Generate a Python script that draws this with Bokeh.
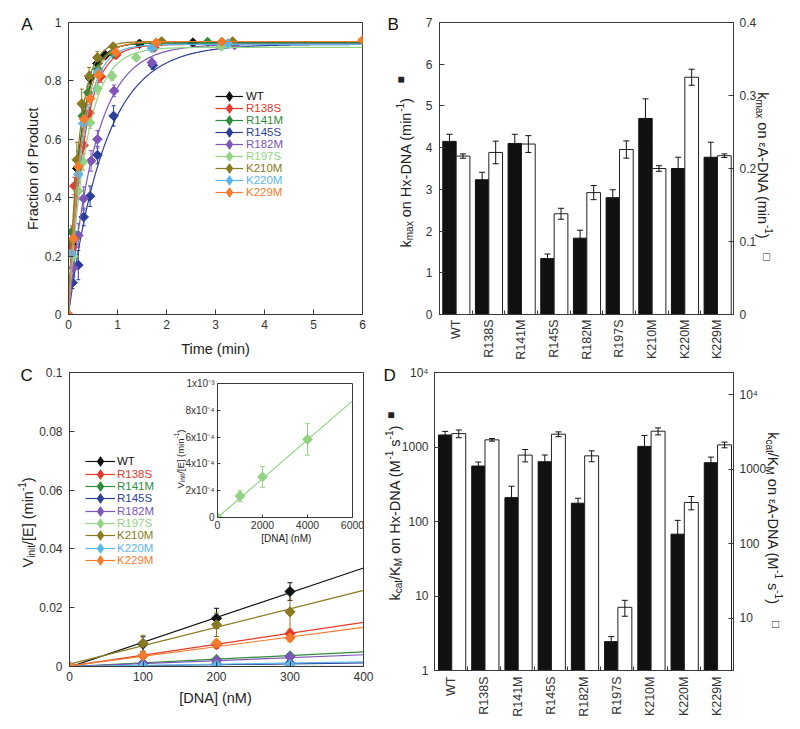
import math
import numpy as np
from bokeh.plotting import figure
from bokeh.models import (ColumnDataSource, Range1d, LinearAxis, LogAxis, LogScale, FixedTicker,
                          Label, Legend, LegendItem, Whisker, TeeHead)
from bokeh.layouts import row, column
from bokeh.embed import file_html
from bokeh.resources import INLINE

FONT = "Liberation Sans"

# ---------------- data ----------------
SERIES = ["WT", "R138S", "R141M", "R145S", "R182M", "R197S", "K210M", "K220M", "K229M"]
COLORS = ["#111111", "#E4392B", "#2F8C3C", "#2B3F98", "#7E56B8", "#93D384", "#8A7A22", "#5DB6EA", "#F47C2C"]

# Panel A: fraction of product vs time (min)
A_T_WT = [0, 0.08, 0.18, 0.30, 0.44, 0.59, 0.75, 1.45, 2.54]
A_Y_WT = [0, 0.24, 0.50, 0.68, 0.81, 0.86, 0.888, 0.927, 0.931]
A_E_WT = [0, 0.02, 0.03, 0.03, 0.02, 0.015, 0.01, 0.01, 0.01]
A_T_R138S = [0, 0.08, 0.12, 0.31, 0.43, 0.66, 0.97, 1.75]
A_Y_R138S = [0, 0.23, 0.44, 0.58, 0.69, 0.815, 0.889, 0.914]
A_E_R138S = [0, 0.02, 0.03, 0.03, 0.02, 0.02, 0.01, 0.01]
A_T_R141M = [0, 0.07, 0.20, 0.29, 0.40, 0.60, 0.91, 2.84]
A_Y_R141M = [0, 0.283, 0.53, 0.68, 0.76, 0.84, 0.894, 0.933]
A_E_R141M = [0, 0.02, 0.03, 0.03, 0.02, 0.02, 0.01, 0.01]
A_T_R145S = [0, 0.08, 0.20, 0.31, 0.44, 0.59, 0.92, 1.72]
A_Y_R145S = [0, 0.109, 0.169, 0.334, 0.405, 0.546, 0.68, 0.854]
A_E_R145S = [0, 0.02, 0.05, 0.03, 0.035, 0.03, 0.035, 0.015]
A_T_R182M = [0, 0.10, 0.20, 0.31, 0.46, 0.59, 0.93, 1.70, 3.39]
A_Y_R182M = [0, 0.16, 0.271, 0.397, 0.526, 0.60, 0.766, 0.863, 0.923]
A_E_R182M = [0, 0.03, 0.04, 0.04, 0.035, 0.03, 0.02, 0.015, 0.01]
A_T_R197S = [0, 0.10, 0.20, 0.30, 0.44, 0.59, 0.89, 1.38, 3.12]
A_Y_R197S = [0, 0.20, 0.423, 0.523, 0.657, 0.774, 0.816, 0.88, 0.918]
A_E_R197S = [0, 0.02, 0.03, 0.03, 0.02, 0.02, 0.015, 0.01, 0.01]
A_T_K210M = [0, 0.07, 0.17, 0.27, 0.42, 0.59, 0.91, 1.90, 3.35]
A_Y_K210M = [0, 0.25, 0.53, 0.722, 0.816, 0.88, 0.918, 0.935, 0.935]
A_E_K210M = [0, 0.03, 0.06, 0.05, 0.03, 0.02, 0.01, 0.01, 0.01]
A_T_K220M = [0, 0.06, 0.20, 0.30, 0.60, 1.70, 3.25]
A_Y_K220M = [0, 0.208, 0.48, 0.654, 0.83, 0.912, 0.928]
A_E_K220M = [0, 0.02, 0.03, 0.03, 0.02, 0.01, 0.01]
A_T_K229M = [0, 0.10, 0.20, 0.32, 0.44, 0.62, 0.97, 1.79, 3.13, 6.0]
A_Y_K229M = [0, 0.26, 0.507, 0.669, 0.739, 0.82, 0.897, 0.931, 0.934, 0.94]
A_E_K229M = [0, 0.02, 0.03, 0.03, 0.02, 0.02, 0.01, 0.01, 0.01, 0]
A_PLATEAU = [0.93, 0.925, 0.93, 0.925, 0.925, 0.915, 0.935, 0.925, 0.935]
A_XTICKS = [0, 1, 2, 3, 4, 5, 6]
A_YTICKS = [0, 0.2, 0.4, 0.6, 0.8, 1]

# Panel B: kmax (min^-1)
KMAX_HX = [4.15, 3.23, 4.10, 1.34, 1.83, 2.80, 4.70, 3.50, 3.77]
KMAX_HX_ERR = [0.17, 0.18, 0.22, 0.11, 0.19, 0.19, 0.47, 0.27, 0.36]
KMAX_EA = [0.217, 0.222, 0.2335, 0.138, 0.167, 0.226, 0.200, 0.325, 0.2175]
KMAX_EA_ERR = [0.003, 0.0155, 0.0115, 0.0075, 0.0097, 0.0118, 0.0038, 0.011, 0.0025]
B_LTICKS = [0, 1, 2, 3, 4, 5, 6, 7]
B_RTICKS = [0, 0.1, 0.2, 0.3, 0.4]

# Panel C: Vinit/[E] vs [DNA] (nM)
C_X = [0, 100, 200, 300]
C_Y_WT = [0, 0.0076, 0.0164, 0.0255]
C_E_WT = [0, 0.0025, 0.0034, 0.003]
C_Y_R138S = [0, 0.0036, 0.0074, 0.0112]
C_E_R138S = [0, 0.0008, 0.0012, 0.0015]
C_Y_R141M = [0, 0.0012, 0.0024, 0.0036]
C_E_R141M = [0, 0.0003, 0.0005, 0.0008]
C_Y_R145S = [0, 0.0004, 0.0008, 0.0011]
C_E_R145S = [0, 0.0002, 0.0002, 0.0003]
C_Y_R182M = [0, 0.0010, 0.0020, 0.0033]
C_E_R182M = [0, 0.0004, 0.0006, 0.0008]
C_Y_R197S = [0, 0.00002, 0.00003, 0.00005]
C_E_R197S = [0, 0, 0, 0]
C_Y_K210M = [0, 0.0079, 0.0142, 0.0186]
C_E_K210M = [0, 0.0027, 0.004, 0.0065]
C_Y_K220M = [0, 0.0002, 0.0004, 0.0006]
C_E_K220M = [0, 0.0001, 0.0001, 0.0002]
C_Y_K229M = [0, 0.0037, 0.0080, 0.0097]
C_E_K229M = [0, 0.0008, 0.001, 0.0012]
C_LINE_X = [0, 400]
C_LINE_Y = [[-0.0002, 0.0335], [0.0001, 0.0150], [0, 0.0050], [0, 0.0012], [0, 0.0040],
            [0, 0.00006], [0.0008, 0.0259], [0, 0.0016], [0.0002, 0.0133]]
C_XTICKS = [0, 100, 200, 300, 400]
C_YTICKS = [0, 0.02, 0.04, 0.06, 0.08, 0.1]

# Inset (R197S)
INSET_X = [0, 1000, 2000, 4000]
INSET_Y = [0, 0.000160, 0.000303, 0.000583]
INSET_E = [0, 0.000040, 0.000078, 0.000117]
INSET_LINE_X = [0, 6000]
INSET_LINE_Y = [0, 0.00087]
INSET_XTICKS = [0, 2000, 4000, 6000]
INSET_YTICKS = [0, 0.0002, 0.0004, 0.0006, 0.0008, 0.001]
INSET_YLABELS = ["0", "2x10\u207b\u2074", "4x10\u207b\u2074", "6x10\u207b\u2074", "8x10\u207b\u2074", "1x10\u207b\u00b3"]

# Panel D: kcat/KM (M^-1 s^-1)
KCAT_HX = [1450, 555, 209, 634, 176, 2.44, 1019, 67.6, 615]
KCAT_HX_ERR = [170, 73, 88, 146, 29, 0.41, 411, 36, 117]
KCAT_EA = [3025, 2496, 1556, 2972, 1521, 14.1, 3259, 360, 2137]
KCAT_EA_ERR = [360, 100, 294, 218, 254, 3.4, 351, 73, 186]
D_LTICKS = [1, 10, 100, 1000, 10000]
D_RTICKS = [10, 100, 1000, 10000]

# ---------------- helpers ----------------
WID = {' ': .278, '(': .333, ')': .333, '-': .333, '/': .278, '[': .278, ']': .278,
       'A': .667, 'D': .722, 'E': .667, 'H': .722, 'K': .667, 'M': .833, 'N': .722, 'V': .667,
       'a': .556, 'c': .5, 'e': .556, 'i': .222, 'k': .5, 'm': .833, 'n': .556, 'o': .556,
       's': .5, 't': .278, 'x': .5, '\u03b5': .46}


def text_w(s, size):
    return sum(WID.get(ch, .556) for ch in s) * size


def make_fig(fw, fh, bl, br, bt, bb, xr, yr, **kw):
    kw.setdefault("border_fill_color", "white")
    kw.setdefault("background_fill_color", "white")
    kw.setdefault("outline_line_color", "#3a3a3a")
    p = figure(frame_width=fw, frame_height=fh, min_border_left=bl, min_border_right=br,
               min_border_top=bt, min_border_bottom=bb, x_range=xr, y_range=yr, title=None,
               output_backend="svg", toolbar_location=None, **kw)
    p.xgrid.visible = False
    p.ygrid.visible = False
    return p


def style_axis(ax, size=12, standoff=6, tick_in=5):
    ax.axis_line_color = "#3a3a3a"
    ax.major_tick_line_color = "#3a3a3a"
    ax.minor_tick_line_color = "#3a3a3a"
    ax.major_tick_in = tick_in
    ax.major_tick_out = 0
    ax.minor_tick_in = 0
    ax.minor_tick_out = 0
    ax.major_label_text_font = FONT
    ax.major_label_text_font_size = f"{size}px"
    ax.major_label_text_color = "#333333"
    ax.major_label_standoff = standoff


def fmt(v):
    return "%g" % v


def whisk(p, src, col, head, level, rn="default"):
    p.add_layout(Whisker(source=src, base="x", lower="lo", upper="hi", y_range_name=rn,
                         line_color=col, line_width=1, level=level,
                         upper_head=TeeHead(size=head, line_color=col, line_width=1),
                         lower_head=TeeHead(size=head, line_color=col, line_width=1)))


def add_legend_entry(p, name, col, renderers, fx, fy, gw, standoff):
    p.add_layout(Legend(items=[LegendItem(label=name, renderers=renderers)],
                        location=(fx, fy), glyph_width=gw, glyph_height=24, label_height=24,
                        label_standoff=standoff, padding=0, margin=0, spacing=0,
                        background_fill_alpha=0, border_line_alpha=0,
                        label_text_color=col, label_text_font=FONT, label_text_font_size="11.5px"))


# ---------------- Panel A ----------------
pA = make_fig(294, 292, 68, 18, 22, 48, Range1d(0, 6), Range1d(0, 1))
style_axis(pA.xaxis[0], standoff=5)
style_axis(pA.yaxis[0], standoff=7)
pA.xaxis[0].ticker = FixedTicker(ticks=A_XTICKS)
pA.yaxis[0].ticker = FixedTicker(ticks=A_YTICKS)
pA.yaxis[0].major_label_overrides = {v: fmt(v) for v in A_YTICKS}

A_T = [A_T_WT, A_T_R138S, A_T_R141M, A_T_R145S, A_T_R182M, A_T_R197S, A_T_K210M, A_T_K220M, A_T_K229M]
A_Y = [A_Y_WT, A_Y_R138S, A_Y_R141M, A_Y_R145S, A_Y_R182M, A_Y_R197S, A_Y_K210M, A_Y_K220M, A_Y_K229M]
A_E = [A_E_WT, A_E_R138S, A_E_R141M, A_E_R145S, A_E_R182M, A_E_R197S, A_E_K210M, A_E_K220M, A_E_K229M]

t_fit = np.linspace(0, 6, 301)
for i, name in enumerate(SERIES):
    col = COLORS[i]
    t = np.array(A_T[i]); y = np.array(A_Y[i]); e = np.array(A_E[i])
    # single-exponential fit curve: plateau * (1 - exp(-kmax t)), kmax from panel B
    ln = pA.line(t_fit, A_PLATEAU[i] * (1 - np.exp(-KMAX_HX[i] * t_fit)), line_color=col, line_width=1.2)
    src = ColumnDataSource(dict(x=t, y=y, lo=y - e, hi=y + e))
    whisk(pA, src, col, 4, "underlay")
    # small diamond (hidden under the marker) supplies the diamond legend key
    key = pA.scatter("x", "y", source=src, marker="diamond", size=5.5, fill_color=col, line_color=col)
    pA.scatter("x", "y", source=src, marker="square", angle=math.pi / 4, size=6.8,
               fill_color=col, line_color=col)
    cy = 95.7 + 12.07 * i
    add_legend_entry(pA, name, col, [ln, key], 147, 314 - cy - 12, 28, 3)

# ---------------- Panel B ----------------
CAT_X = [i + 0.5 for i in range(len(SERIES))]
pB = make_fig(294, 292, 59, 59, 22, 48, Range1d(0, 9), Range1d(0, 7))
pB.extra_y_ranges = {"r": Range1d(0, 0.4)}
style_axis(pB.yaxis[0], standoff=7)
pB.yaxis[0].ticker = FixedTicker(ticks=B_LTICKS)
rB = LinearAxis(y_range_name="r", ticker=FixedTicker(ticks=B_RTICKS),
                major_label_overrides={v: fmt(v) for v in B_RTICKS})
style_axis(rB, standoff=6)
pB.add_layout(rB, "right")
xb = pB.xaxis[0]
style_axis(xb, size=12.5, standoff=5)
xb.ticker = FixedTicker(ticks=CAT_X, minor_ticks=[1, 2, 3, 4, 5, 6, 7, 8])
xb.major_label_overrides = dict(zip(CAT_X, SERIES))
xb.major_label_orientation = math.pi / 2
xb.major_tick_in = 0
xb.minor_tick_in = 4

bx_black = [i + 0.305 for i in range(9)]
bx_open = [i + 0.72 for i in range(9)]
pB.vbar(x=bx_black, top=KMAX_HX, bottom=0, width=0.41, fill_color="#111111", line_color="#111111")
pB.vbar(x=bx_open, top=KMAX_EA, bottom=0, width=0.42, fill_color="white", line_color="#222222",
        y_range_name="r")
hx = np.array(KMAX_HX); hxe = np.array(KMAX_HX_ERR)
ea = np.array(KMAX_EA); eae = np.array(KMAX_EA_ERR)
whisk(pB, ColumnDataSource(dict(x=bx_black, lo=hx - hxe, hi=hx + hxe)), "#111111", 6, "annotation")
whisk(pB, ColumnDataSource(dict(x=bx_open, lo=ea - eae, hi=ea + eae)), "#111111", 6, "annotation", "r")

# ---------------- Panel C ----------------
pC = make_fig(294, 294, 69, 17, 10, 54, Range1d(0, 400), Range1d(0, 0.1))
style_axis(pC.xaxis[0], standoff=5)
style_axis(pC.yaxis[0], standoff=7)
pC.xaxis[0].ticker = FixedTicker(ticks=C_XTICKS)
pC.yaxis[0].ticker = FixedTicker(ticks=C_YTICKS)
pC.yaxis[0].major_label_overrides = {v: fmt(v) for v in C_YTICKS}

C_Y = [C_Y_WT, C_Y_R138S, C_Y_R141M, C_Y_R145S, C_Y_R182M, C_Y_R197S, C_Y_K210M, C_Y_K220M, C_Y_K229M]
C_E = [C_E_WT, C_E_R138S, C_E_R141M, C_E_R145S, C_E_R182M, C_E_R197S, C_E_K210M, C_E_K220M, C_E_K229M]
for i, name in enumerate(SERIES):
    col = COLORS[i]
    y = np.array(C_Y[i]); e = np.array(C_E[i])
    ln = pC.line(C_LINE_X, C_LINE_Y[i], line_color=col, line_width=1.2)
    src = ColumnDataSource(dict(x=C_X, y=y, lo=y - e, hi=y + e))
    whisk(pC, src, col, 5, "underlay")
    key = pC.scatter("x", "y", source=src, marker="diamond", size=5.5, fill_color=col, line_color=col)
    pC.scatter("x", "y", source=src, marker="square", angle=math.pi / 4, size=7.2,
               fill_color=col, line_color=col)
    cy = 461.3 + 12.33 * i
    add_legend_entry(pC, name, col, [ln, key], 16, 666 - cy - 12, 30, 2)

# ---------------- Inset (absolutely positioned over panel C) ----------------
pI = make_fig(135, 134, 50, 12, 8, 22, Range1d(0, 6000), Range1d(0, 0.001), border_fill_color=None)
style_axis(pI.xaxis[0], size=10.5, standoff=3, tick_in=3)
style_axis(pI.yaxis[0], size=10, standoff=3, tick_in=3)
pI.xaxis[0].ticker = FixedTicker(ticks=INSET_XTICKS)
pI.yaxis[0].ticker = FixedTicker(ticks=INSET_YTICKS)
pI.yaxis[0].major_label_overrides = dict(zip(INSET_YTICKS, INSET_YLABELS))
icol = COLORS[5]
pI.line(INSET_LINE_X, INSET_LINE_Y, line_color=icol, line_width=1.2)
iy = np.array(INSET_Y); ie = np.array(INSET_E)
isrc = ColumnDataSource(dict(x=INSET_X, y=iy, lo=iy - ie, hi=iy + ie))
whisk(pI, isrc, icol, 5, "underlay")
pI.scatter("x", "y", source=isrc, marker="square", angle=math.pi / 4, size=7, fill_color=icol, line_color=icol)

# ---------------- Panel D ----------------
pD = make_fig(299, 298, 54, 59, 10, 50, Range1d(0, 9), Range1d(1, 10000), y_axis_type="log")
pD.extra_y_ranges = {"r": Range1d(2, 20000)}
pD.extra_y_scales = {"r": LogScale()}
style_axis(pD.yaxis[0], standoff=6)
pD.yaxis[0].ticker = FixedTicker(ticks=D_LTICKS)
pD.yaxis[0].major_label_overrides = {1: "1", 10: "10", 100: "100", 1000: "1000", 10000: "10\u2074"}
rD = LogAxis(y_range_name="r", ticker=FixedTicker(ticks=D_RTICKS),
             major_label_overrides={10: "10", 100: "100", 1000: "1000", 10000: "10\u2074"})
style_axis(rD, standoff=6)
pD.add_layout(rD, "right")
xd = pD.xaxis[0]
style_axis(xd, size=12.5, standoff=6)
xd.ticker = FixedTicker(ticks=CAT_X, minor_ticks=[1, 2, 3, 4, 5, 6, 7, 8])
xd.major_label_overrides = dict(zip(CAT_X, SERIES))
xd.major_label_orientation = math.pi / 2
xd.major_tick_in = 0
xd.minor_tick_in = 4

dx_black = [i + 0.32 for i in range(9)]
dx_open = [i + 0.73 for i in range(9)]
pD.vbar(x=dx_black, top=KCAT_HX, bottom=1, width=0.40, fill_color="#111111", line_color="#111111")
pD.vbar(x=dx_open, top=KCAT_EA, bottom=2, width=0.42, fill_color="white", line_color="#222222",
        y_range_name="r")
kh = np.array(KCAT_HX); khe = np.array(KCAT_HX_ERR)
ke = np.array(KCAT_EA); kee = np.array(KCAT_EA_ERR)
whisk(pD, ColumnDataSource(dict(x=dx_black, lo=kh - khe, hi=kh + khe)), "#111111", 6, "annotation")
whisk(pD, ColumnDataSource(dict(x=dx_open, lo=ke - kee, hi=ke + kee)), "#111111", 6, "annotation", "r")

# ---------------- text overlay (page pixel coordinates) ----------------
OW, OH = 792, 720
pT = figure(frame_width=OW, frame_height=OH, min_border_left=0, min_border_right=0,
            min_border_top=0, min_border_bottom=0, x_range=Range1d(0, OW), y_range=Range1d(OH, 0),
            title=None, output_backend="svg", toolbar_location=None,
            x_axis_location=None, y_axis_location=None,
            background_fill_color=None, border_fill_color=None, outline_line_color=None)
pT.xgrid.visible = False
pT.ygrid.visible = False


def put(text, X, Y, size, angle=0.0, align="left", baseline="alphabetic", color="#222222"):
    pT.add_layout(Label(x=X, y=Y, text=text, angle=angle, text_font=FONT, text_font_size=f"{size}px",
                        text_color=color, text_align=align, text_baseline=baseline))


def rich(pieces, X, Y, rot):
    if rot == 90:
        adv, up, ang = (0, -1), (-1, 0), math.pi / 2
    elif rot == -90:
        adv, up, ang = (0, 1), (1, 0), -math.pi / 2
    else:
        adv, up, ang = (1, 0), (0, -1), 0.0
    pos = 0.0
    sp = WID[' ']
    for txt, size, shift in pieces:
        lead = len(txt) - len(txt.lstrip(' '))
        trail = len(txt) - len(txt.rstrip(' '))
        core = txt.strip(' ')
        pos += lead * sp * size
        put(core, X + adv[0] * pos + up[0] * shift, Y + adv[1] * pos + up[1] * shift, size, angle=ang)
        pos += text_w(core, size) + trail * sp * size


# panel letters
put("A", 20.7, 24, 17, color="#111111")
put("B", 387, 24, 17, color="#111111")
put("C", 20, 375, 17, color="#111111")
put("D", 383, 375, 17, color="#111111")
# A titles
put("Fraction of Product", 32, 168.3, 14.5, angle=math.pi / 2, align="center")
put("Time (min)", 215, 348, 14.5, align="center")
# B titles
rich([("k", 14.5, 0), ("max", 10, -3.5), (" on Hx-DNA (min", 14.5, 0), ("-1", 10, 6), (")", 14.5, 0)],
     405, 247, 90)
put("\u25a0", 400, 79.5, 12, angle=math.pi / 2, align="center", baseline="middle")
rich([("k", 14.5, 0), ("max", 10, -3.5), (" on ", 14.5, 0), ("\u03b5", 11, 0),
      ("A-DNA (min", 14.5, 0), ("-1", 10, 6), (")", 14.5, 0)], 762, 91.7, -90)
put("\u25a1", 766.7, 256.7, 12, angle=-math.pi / 2, align="center", baseline="middle")
# C titles
rich([("V", 14.5, 0), ("init", 10, -3.5), ("/[E] (min", 14.5, 0), ("-1", 10, 6), (")", 14.5, 0)],
     27.5, 567, 90)
put("[DNA] (nM)", 215, 697, 14.5, align="center")
# inset titles
rich([("V", 9.5, 0), ("init", 6.5, -2.3), ("/[E] (min", 9.5, 0), ("-1", 6.5, 4), (")", 9.5, 0)],
     180, 488, 90)
put("[DNA] (nM)", 285.8, 537.5, 10, align="center")
# D titles
rich([("k", 14.5, 0), ("cat", 10, -3.5), ("/K", 14.5, 0), ("M", 10, -3.5),
      (" on Hx-DNA (M", 14.5, 0), ("-1", 10, 6), (" s", 14.5, 0), ("-1", 10, 6), (")", 14.5, 0)],
     394, 600, 90)
put("\u25a0", 390, 415, 12, angle=math.pi / 2, align="center", baseline="middle")
rich([("k", 14.5, 0), ("cat", 10, -3.5), ("/K", 14.5, 0), ("M", 10, -3.5), (" on ", 14.5, 0),
      ("\u03b5", 11, 0), ("A-DNA (M", 14.5, 0), ("-1", 10, 6), (" s", 14.5, 0), ("-1", 10, 6),
      (")", 14.5, 0)], 772.6, 431.7, -90)
put("\u25a1", 775.8, 624, 12, angle=-math.pi / 2, align="center", baseline="middle")

# ---------------- layout ----------------
inset_box = column(pI, styles={"position": "absolute", "left": "167px", "top": "375px"})
text_box = column(pT, styles={"position": "absolute", "left": "0px", "top": "0px"})
layout = column(row(pA, pB), row(pC, pD), inset_box, text_box)

open("out.html", "w").write(file_html(layout, INLINE, title="Kinetics"))
